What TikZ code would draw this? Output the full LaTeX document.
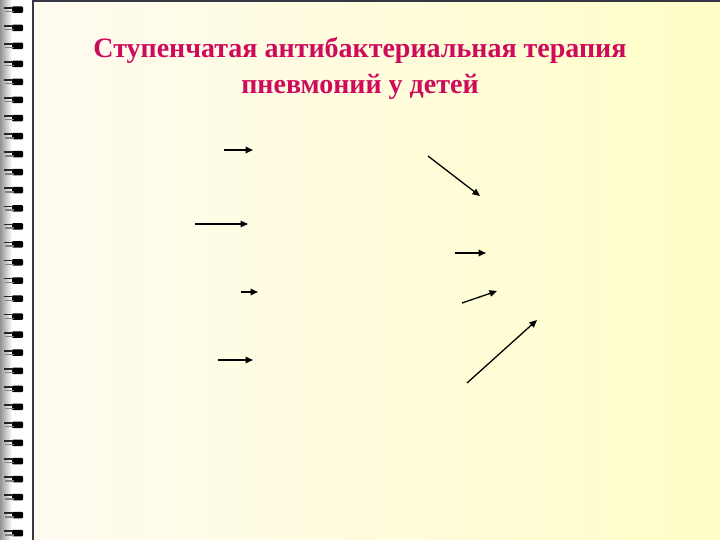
\documentclass[tikz,border=0pt]{standalone}
\usepackage{fontspec}
\setmainfont{Liberation Serif}
\usetikzlibrary{arrows.meta}
\definecolor{titlecol}{RGB}{206,10,92}
\definecolor{creamL}{RGB}{255,251,241}
\definecolor{creamR}{RGB}{255,254,200}
\definecolor{edgecol}{RGB}{55,55,70}
\tikzset{
  px/.style={x=1pt,y=-1pt},
  arr/.style={line width=1.8pt,-{Triangle[length=7.5pt,width=6.5pt]}},
  thinarr/.style={line width=1.3pt,-{Triangle[length=7.5pt,width=6.5pt]}},
  ringdark/.style={fill=black},
  titletext/.style={text=titlecol,font=\fontsize{28}{36}\selectfont\bfseries,align=center}
}
\begin{document}
\begin{tikzpicture}[px]
\useasboundingbox (0,0) rectangle (720,540);
% left strip
\fill[white] (0,0) rectangle (33,540);
\shade[left color=gray!85,right color=white] (0,0) rectangle (12,540);
% page
\shade[left color=creamL,right color=creamR] (33,0) rectangle (720,540);
\draw[edgecol,line width=1.5pt] (33,540) -- (33,1) -- (720,1);
% rings
\foreach \i in {0,...,29}{
  \pgfmathsetmacro{\yy}{10+18.05*\i}
  \fill[ringdark,rounded corners=1pt] (12,\yy-3.5) rectangle (23,\yy+3);
  \draw[black!85,line width=1.6pt] (4,\yy-2.2) -- (13,\yy-2.2);
  \draw[black!50,line width=1.4pt] (5,\yy+1.5) -- (14,\yy+1.5);
}
% title
\node[titletext] (title) at (360,69) {Ступенчатая антибактериальная терапия\\пневмоний у детей};
% arrows
\coordinate (a1s) at (224,150); \coordinate (a1e) at (253,150);
\coordinate (a2s) at (195,224); \coordinate (a2e) at (248,224);
\coordinate (a3s) at (241,292); \coordinate (a3e) at (258,292);
\coordinate (a4s) at (218,360); \coordinate (a4e) at (253,360);
\coordinate (a5s) at (428,156); \coordinate (a5e) at (480,196);
\coordinate (a6s) at (455,253); \coordinate (a6e) at (486,253);
\coordinate (a7s) at (462,303); \coordinate (a7e) at (497,291);
\coordinate (a8s) at (467,383); \coordinate (a8e) at (537,320);
\draw[arr] (a1s) -- (a1e);
\draw[thinarr] (a2s) -- (a2e);
\draw[arr] (a3s) -- (a3e);
\draw[arr] (a4s) -- (a4e);
\draw[thinarr] (a5s) -- (a5e);
\draw[arr] (a6s) -- (a6e);
\draw[thinarr] (a7s) -- (a7e);
\draw[thinarr] (a8s) -- (a8e);
\end{tikzpicture}
\end{document}
